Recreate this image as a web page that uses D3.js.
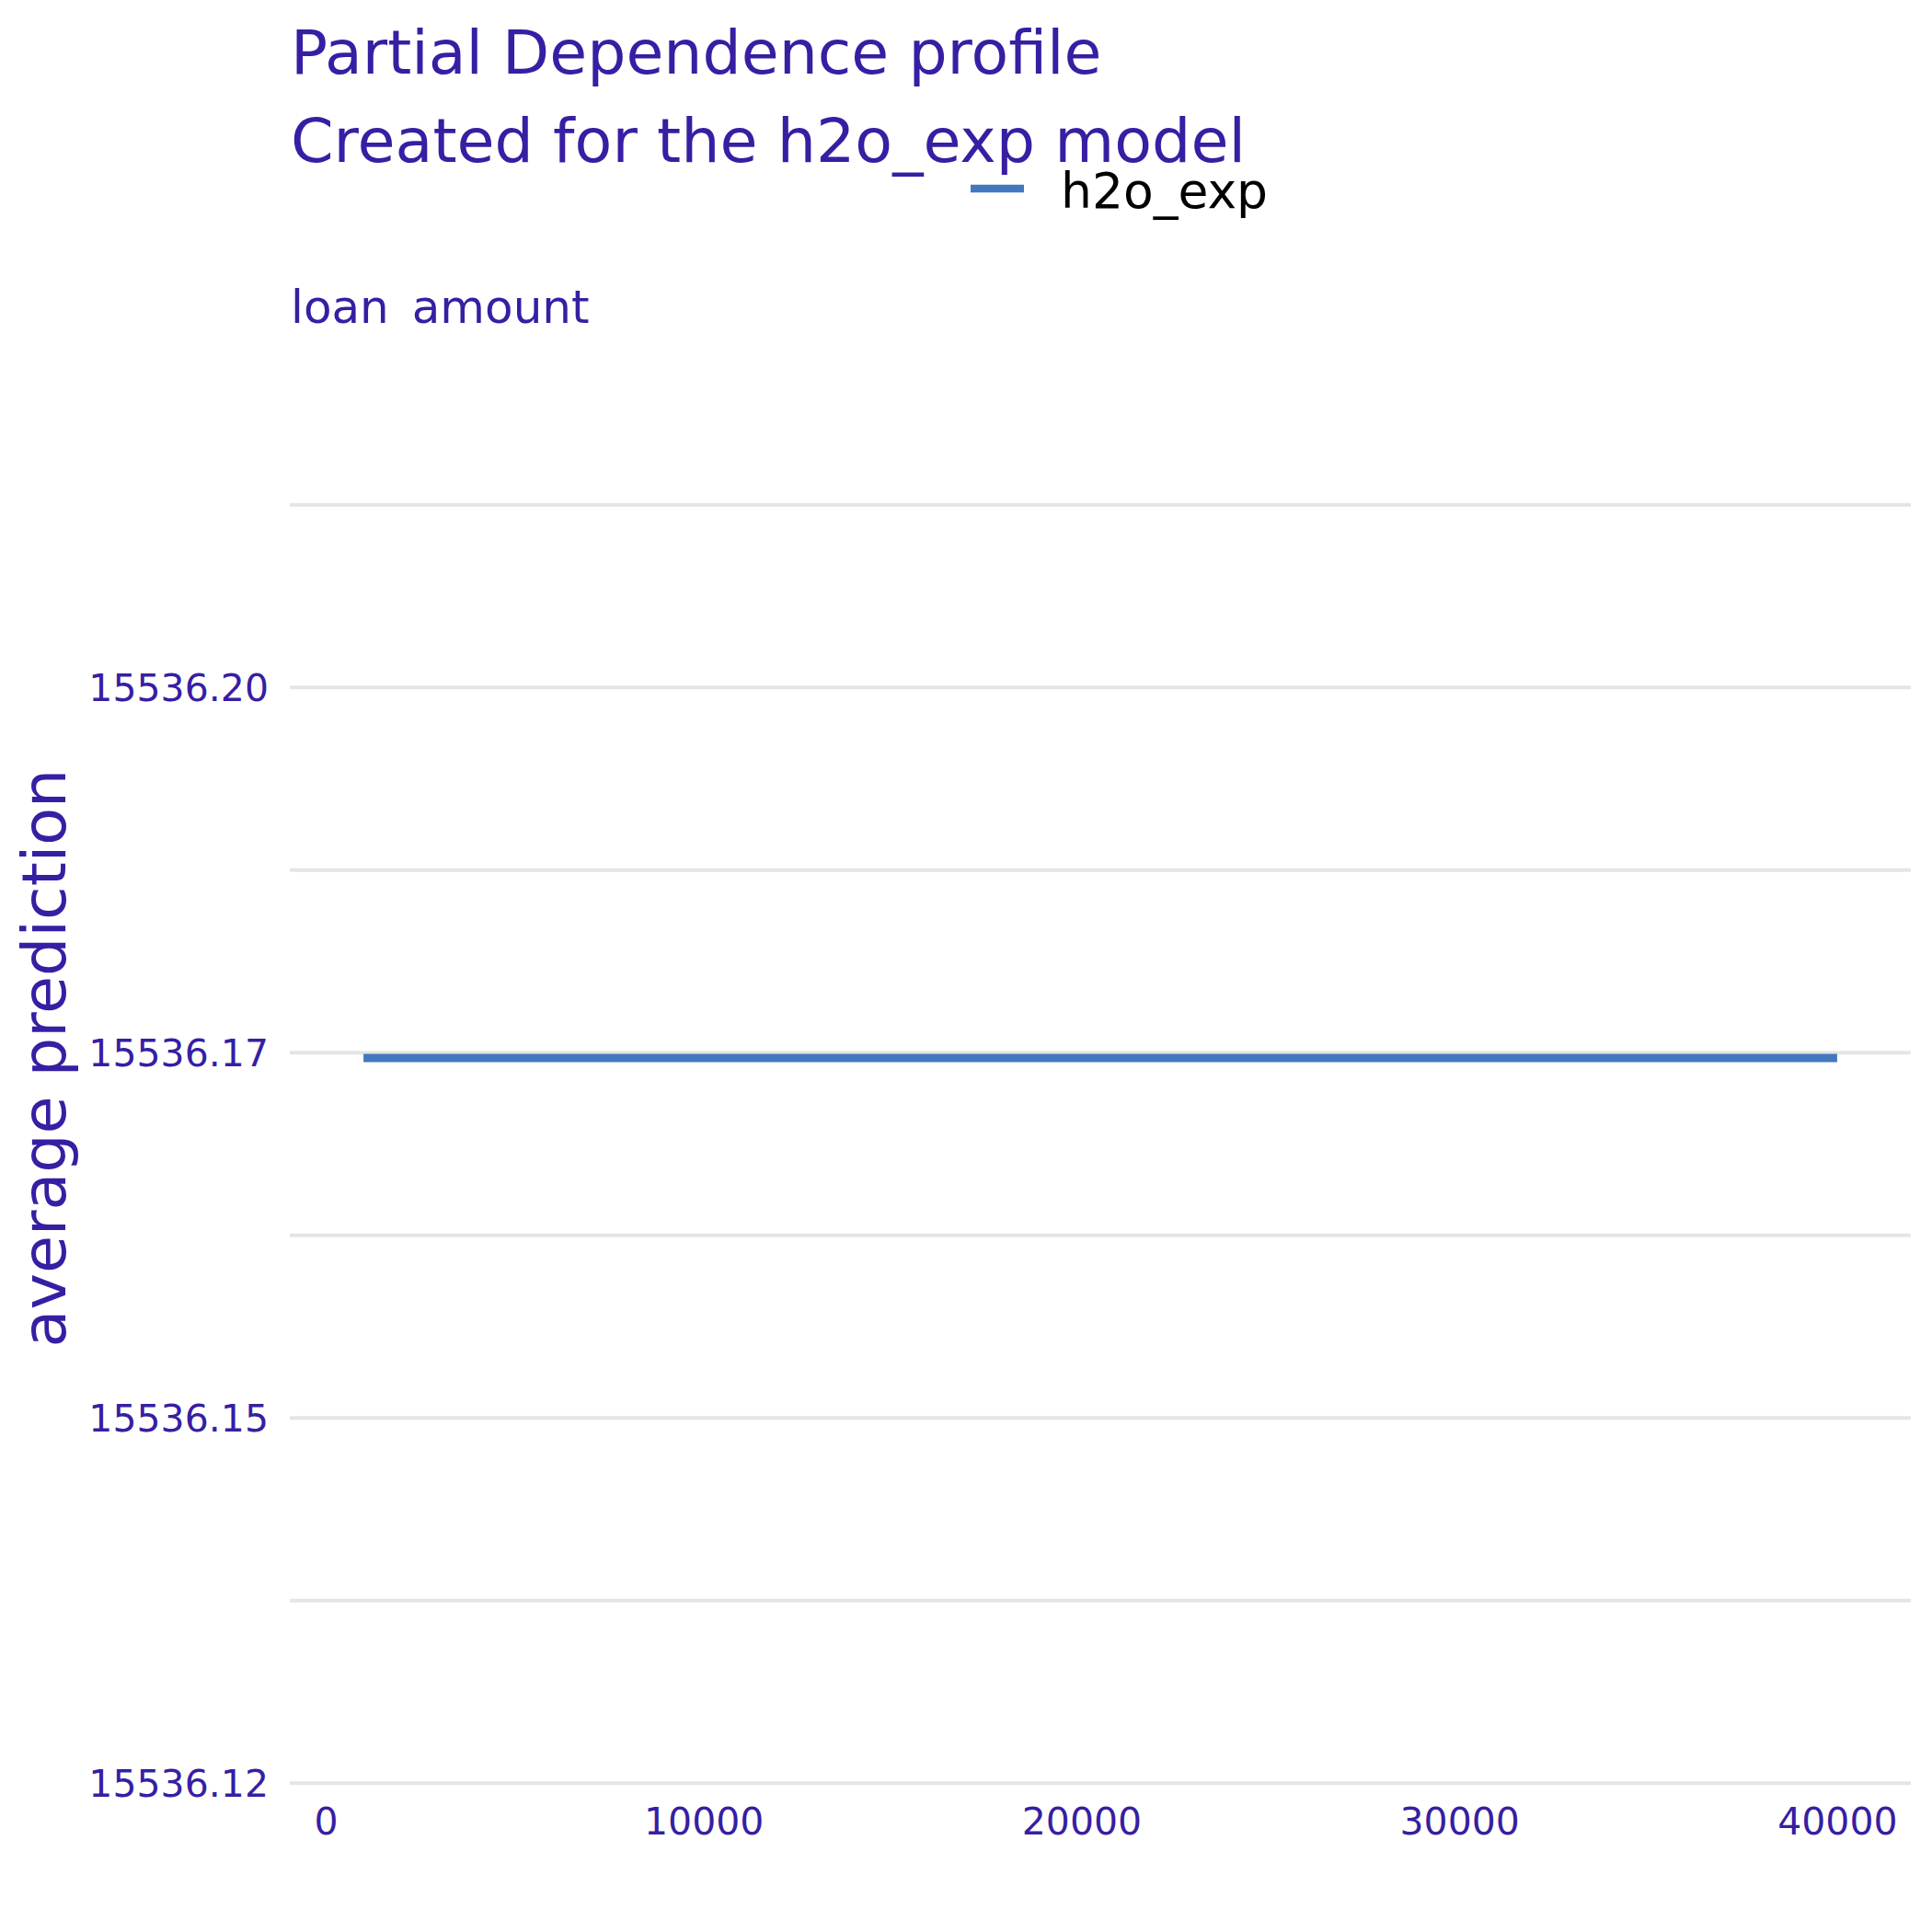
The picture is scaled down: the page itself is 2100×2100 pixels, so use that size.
<!DOCTYPE html>
<html>
<head>
<meta charset="utf-8">
<script src="https://cdn.jsdelivr.net/npm/d3@7"></script>
<style>
  body { margin: 0; background: #fff; }
  svg text { font-family: "DejaVu Sans", sans-serif; }
</style>
</head>
<body>
<div id="chart"></div>
<script>
// PD profile for loan_amount (flat line)
const loanAmount = [1000, 5000, 10000, 15000, 20000, 25000, 30000, 35000, 40000];
const avgPrediction = [15536.1746, 15536.1746, 15536.1746, 15536.1746, 15536.1746, 15536.1746, 15536.1746, 15536.1746, 15536.1746];
const modelName = "h2o_exp";
const variableName = "loan amount";

const xTicks = [0, 10000, 20000, 30000, 40000];
const yTicks = [15536.125, 15536.15, 15536.175, 15536.2];
const yTickLabels = ["15536.12", "15536.15", "15536.17", "15536.20"];
const yMinorTicks = [15536.1375, 15536.1625, 15536.1875, 15536.2125];

const W = 2100, H = 2100;
const titleColor = "#371ea3";
const lineColor = "#4378bf";
const gridColor = "#e5e5e5";

const svg = d3.select("#chart")
    .append("svg")
    .attr("width", W)
    .attr("height", H);

const panel = {left: 315, right: 2077, top: 548.2, bottom: 1937.8};

const x = d3.scaleLinear()
    .domain([-950, 41950])
    .range([panel.left, panel.right]);

const y = d3.scaleLinear()
    .domain([15536.125, 15536.2125])
    .range([panel.bottom, panel.top]);

// minor gridlines
svg.append("g")
    .attr("transform", `translate(${panel.left},0)`)
    .call(d3.axisLeft(y).tickValues(yMinorTicks).tickSize(-(panel.right - panel.left)).tickFormat(""))
    .call(g => g.select(".domain").remove())
    .call(g => g.selectAll(".tick line").attr("stroke", gridColor).attr("stroke-width", 4));

// major gridlines + labels
svg.append("g")
    .attr("transform", `translate(${panel.left},0)`)
    .call(d3.axisLeft(y).tickValues(yTicks).tickSize(-(panel.right - panel.left)).tickPadding(23)
        .tickFormat((d, i) => yTickLabels[i]))
    .call(g => g.select(".domain").remove())
    .call(g => g.selectAll(".tick line").attr("stroke", gridColor).attr("stroke-width", 4))
    .call(g => g.selectAll(".tick text")
        .attr("fill", titleColor)
        .attr("font-size", 41)
        .attr("font-family", "DejaVu Sans")
        .attr("dy", "0.36em"));

// x axis labels
svg.append("g")
    .attr("transform", `translate(0,${panel.bottom})`)
    .call(d3.axisBottom(x).tickValues(xTicks).tickSize(0).tickPadding(0).tickFormat(d3.format("d")))
    .call(g => g.select(".domain").remove())
    .call(g => g.selectAll(".tick text")
        .attr("fill", titleColor)
        .attr("font-size", 41)
        .attr("font-family", "DejaVu Sans")
        .attr("y", 56)
        .attr("dy", 0));

// profile line
const points = loanAmount.map((d, i) => ({x: d, y: avgPrediction[i]}));
svg.append("path")
    .datum(points)
    .attr("fill", "none")
    .attr("stroke", lineColor)
    .attr("stroke-width", 9)
    .attr("d", d3.line().x(d => x(d.x)).y(d => y(d.y)));

// titles
svg.append("text")
    .attr("x", 316).attr("y", 80)
    .attr("fill", titleColor)
    .attr("font-size", 66.5)
    .text("Partial Dependence profile");

svg.append("text")
    .attr("x", 316).attr("y", 176)
    .attr("fill", titleColor)
    .attr("font-size", 66.7)
    .text(`Created for the ${modelName} model`);

// legend
svg.append("line")
    .attr("x1", 1055).attr("x2", 1113)
    .attr("y1", 205).attr("y2", 205)
    .attr("stroke", lineColor)
    .attr("stroke-width", 8.5);

svg.append("text")
    .attr("x", 1153).attr("y", 226)
    .attr("fill", "#000")
    .attr("font-size", 53.5)
    .text(modelName);

// facet label
svg.append("text")
    .attr("x", 316).attr("y", 351)
    .attr("fill", titleColor)
    .attr("font-size", 50)
    .attr("word-spacing", 9)
    .text(variableName);

// y axis title
svg.append("text")
    .attr("transform", "translate(71,1150) rotate(-90)")
    .attr("text-anchor", "middle")
    .attr("fill", titleColor)
    .attr("font-size", 66.7)
    .text("average prediction");
</script>
</body>
</html>
